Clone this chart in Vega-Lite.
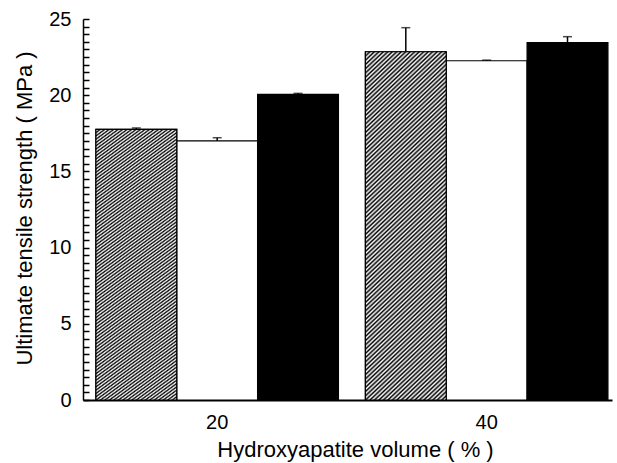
{
  "$schema": "https://vega.github.io/schema/vega-lite/v6.json",
  "width": 529,
  "height": 381,
  "autosize": {"type": "none"},
  "padding": {"left": 83, "top": 19, "right": 5, "bottom": 63},
  "background": "white",
  "config": {
    "view": {"stroke": null},
    "font": "Liberation Sans",
    "axis": {"labelFont": "Liberation Sans", "titleFont": "Liberation Sans", "labelColor": "#000", "titleColor": "#000", "domainColor": "#000", "tickColor": "#000", "titleFontWeight": "normal"},
    "axisY": {
      "labelExpr": "datum.value % 5 === 0 ? datum.value : ''",
      "tickSize": -6, "tickWidth": 1.5, "tickOpacity": 1, "labelFontSize": 20, "labelPadding": 18,
      "domainWidth": 1.5, "grid": false, "labelOverlap": false,
      "titleFontSize": 22, "titleAngle": -90, "titleX": -52, "titleY": 189, "titleAlign": "center", "titleBaseline": "alphabetic"
    }
  },
  "data": {
    "values": [
      {"group": "20", "series": "A", "value": 17.76, "upper": 17.85},
      {"group": "20", "series": "B", "value": 17.0, "upper": 17.21},
      {"group": "20", "series": "C", "value": 20.06, "upper": 20.12},
      {"group": "40", "series": "A", "value": 22.85, "upper": 24.43},
      {"group": "40", "series": "B", "value": 22.26, "upper": 22.3},
      {"group": "40", "series": "C", "value": 23.45, "upper": 23.84}
    ]
  },
  "encoding": {
    "x": {
      "field": "group", "type": "nominal",
      "scale": {"paddingInner": 0.1, "paddingOuter": 0.0315, "align": 0.76},
      "axis": {
        "title": "Hydroxyapatite volume ( % )",
        "labelAngle": 0, "labelFontSize": 20, "labelPadding": 12,
        "ticks": false, "domainWidth": 2, "grid": false,
        "titleFontSize": 22, "titleX": 272, "titleY": 56, "titleBaseline": "alphabetic", "titleAnchor": "middle"
      }
    },
    "xOffset": {"field": "series", "type": "nominal", "scale": {"paddingInner": 0, "paddingOuter": 0}}
  },
  "layer": [
    {
      "mark": {"type": "bar", "stroke": "#000", "strokeWidth": 1.2},
      "encoding": {
        "y": {
          "field": "value", "type": "quantitative",
          "scale": {"domain": [0, 25], "nice": false, "zero": true},
          "axis": {"title": "Ultimate tensile strength ( MPa )", "values": [0,0.5,1,1.5,2,2.5,3,3.5,4,4.5,5,5.5,6,6.5,7,7.5,8,8.5,9,9.5,10,10.5,11,11.5,12,12.5,13,13.5,14,14.5,15,15.5,16,16.5,17,17.5,18,18.5,19,19.5,20,20.5,21,21.5,22,22.5,23,23.5,24,24.5,25]}
        },
        "color": {
          "field": "series", "type": "nominal",
          "scale": {"domain": ["A", "B", "C"], "range": ["#7c7c7c", "#ffffff", "#000000"]},
          "legend": null
        }
      }
    },
    {
      "transform": [{"filter": "datum.series === 'A'"}],
      "mark": {
        "type": "bar", "stroke": "#000", "strokeWidth": 1.2,
        "fill": {
          "gradient": "linear", "x1": 0, "y1": 0, "x2": 0.256, "y2": 1.1637,
          "stops": [
            {"offset":0,"color":"#000"},{"offset":0.005,"color":"#fff"},{"offset":0.01,"color":"#000"},{"offset":0.015,"color":"#fff"},{"offset":0.02,"color":"#000"},{"offset":0.025,"color":"#fff"},{"offset":0.03,"color":"#000"},{"offset":0.035,"color":"#fff"},{"offset":0.04,"color":"#000"},{"offset":0.045,"color":"#fff"},
            {"offset":0.05,"color":"#000"},{"offset":0.055,"color":"#fff"},{"offset":0.06,"color":"#000"},{"offset":0.065,"color":"#fff"},{"offset":0.07,"color":"#000"},{"offset":0.075,"color":"#fff"},{"offset":0.08,"color":"#000"},{"offset":0.085,"color":"#fff"},{"offset":0.09,"color":"#000"},{"offset":0.095,"color":"#fff"},
            {"offset":0.1,"color":"#000"},{"offset":0.105,"color":"#fff"},{"offset":0.11,"color":"#000"},{"offset":0.115,"color":"#fff"},{"offset":0.12,"color":"#000"},{"offset":0.125,"color":"#fff"},{"offset":0.13,"color":"#000"},{"offset":0.135,"color":"#fff"},{"offset":0.14,"color":"#000"},{"offset":0.145,"color":"#fff"},
            {"offset":0.15,"color":"#000"},{"offset":0.155,"color":"#fff"},{"offset":0.16,"color":"#000"},{"offset":0.165,"color":"#fff"},{"offset":0.17,"color":"#000"},{"offset":0.175,"color":"#fff"},{"offset":0.18,"color":"#000"},{"offset":0.185,"color":"#fff"},{"offset":0.19,"color":"#000"},{"offset":0.195,"color":"#fff"},
            {"offset":0.2,"color":"#000"},{"offset":0.205,"color":"#fff"},{"offset":0.21,"color":"#000"},{"offset":0.215,"color":"#fff"},{"offset":0.22,"color":"#000"},{"offset":0.225,"color":"#fff"},{"offset":0.23,"color":"#000"},{"offset":0.235,"color":"#fff"},{"offset":0.24,"color":"#000"},{"offset":0.245,"color":"#fff"},
            {"offset":0.25,"color":"#000"},{"offset":0.255,"color":"#fff"},{"offset":0.26,"color":"#000"},{"offset":0.265,"color":"#fff"},{"offset":0.27,"color":"#000"},{"offset":0.275,"color":"#fff"},{"offset":0.28,"color":"#000"},{"offset":0.285,"color":"#fff"},{"offset":0.29,"color":"#000"},{"offset":0.295,"color":"#fff"},
            {"offset":0.3,"color":"#000"},{"offset":0.305,"color":"#fff"},{"offset":0.31,"color":"#000"},{"offset":0.315,"color":"#fff"},{"offset":0.32,"color":"#000"},{"offset":0.325,"color":"#fff"},{"offset":0.33,"color":"#000"},{"offset":0.335,"color":"#fff"},{"offset":0.34,"color":"#000"},{"offset":0.345,"color":"#fff"},
            {"offset":0.35,"color":"#000"},{"offset":0.355,"color":"#fff"},{"offset":0.36,"color":"#000"},{"offset":0.365,"color":"#fff"},{"offset":0.37,"color":"#000"},{"offset":0.375,"color":"#fff"},{"offset":0.38,"color":"#000"},{"offset":0.385,"color":"#fff"},{"offset":0.39,"color":"#000"},{"offset":0.395,"color":"#fff"},
            {"offset":0.4,"color":"#000"},{"offset":0.405,"color":"#fff"},{"offset":0.41,"color":"#000"},{"offset":0.415,"color":"#fff"},{"offset":0.42,"color":"#000"},{"offset":0.425,"color":"#fff"},{"offset":0.43,"color":"#000"},{"offset":0.435,"color":"#fff"},{"offset":0.44,"color":"#000"},{"offset":0.445,"color":"#fff"},
            {"offset":0.45,"color":"#000"},{"offset":0.455,"color":"#fff"},{"offset":0.46,"color":"#000"},{"offset":0.465,"color":"#fff"},{"offset":0.47,"color":"#000"},{"offset":0.475,"color":"#fff"},{"offset":0.48,"color":"#000"},{"offset":0.485,"color":"#fff"},{"offset":0.49,"color":"#000"},{"offset":0.495,"color":"#fff"},
            {"offset":0.5,"color":"#000"},{"offset":0.505,"color":"#fff"},{"offset":0.51,"color":"#000"},{"offset":0.515,"color":"#fff"},{"offset":0.52,"color":"#000"},{"offset":0.525,"color":"#fff"},{"offset":0.53,"color":"#000"},{"offset":0.535,"color":"#fff"},{"offset":0.54,"color":"#000"},{"offset":0.545,"color":"#fff"},
            {"offset":0.55,"color":"#000"},{"offset":0.555,"color":"#fff"},{"offset":0.56,"color":"#000"},{"offset":0.565,"color":"#fff"},{"offset":0.57,"color":"#000"},{"offset":0.575,"color":"#fff"},{"offset":0.58,"color":"#000"},{"offset":0.585,"color":"#fff"},{"offset":0.59,"color":"#000"},{"offset":0.595,"color":"#fff"},
            {"offset":0.6,"color":"#000"},{"offset":0.605,"color":"#fff"},{"offset":0.61,"color":"#000"},{"offset":0.615,"color":"#fff"},{"offset":0.62,"color":"#000"},{"offset":0.625,"color":"#fff"},{"offset":0.63,"color":"#000"},{"offset":0.635,"color":"#fff"},{"offset":0.64,"color":"#000"},{"offset":0.645,"color":"#fff"},
            {"offset":0.65,"color":"#000"},{"offset":0.655,"color":"#fff"},{"offset":0.66,"color":"#000"},{"offset":0.665,"color":"#fff"},{"offset":0.67,"color":"#000"},{"offset":0.675,"color":"#fff"},{"offset":0.68,"color":"#000"},{"offset":0.685,"color":"#fff"},{"offset":0.69,"color":"#000"},{"offset":0.695,"color":"#fff"},
            {"offset":0.7,"color":"#000"},{"offset":0.705,"color":"#fff"},{"offset":0.71,"color":"#000"},{"offset":0.715,"color":"#fff"},{"offset":0.72,"color":"#000"},{"offset":0.725,"color":"#fff"},{"offset":0.73,"color":"#000"},{"offset":0.735,"color":"#fff"},{"offset":0.74,"color":"#000"},{"offset":0.745,"color":"#fff"},
            {"offset":0.75,"color":"#000"},{"offset":0.755,"color":"#fff"},{"offset":0.76,"color":"#000"},{"offset":0.765,"color":"#fff"},{"offset":0.77,"color":"#000"},{"offset":0.775,"color":"#fff"},{"offset":0.78,"color":"#000"},{"offset":0.785,"color":"#fff"},{"offset":0.79,"color":"#000"},{"offset":0.795,"color":"#fff"},
            {"offset":0.8,"color":"#000"},{"offset":0.805,"color":"#fff"},{"offset":0.81,"color":"#000"},{"offset":0.815,"color":"#fff"},{"offset":0.82,"color":"#000"},{"offset":0.825,"color":"#fff"},{"offset":0.83,"color":"#000"},{"offset":0.835,"color":"#fff"},{"offset":0.84,"color":"#000"},{"offset":0.845,"color":"#fff"},
            {"offset":0.85,"color":"#000"},{"offset":0.855,"color":"#fff"},{"offset":0.86,"color":"#000"},{"offset":0.865,"color":"#fff"},{"offset":0.87,"color":"#000"},{"offset":0.875,"color":"#fff"},{"offset":0.88,"color":"#000"},{"offset":0.885,"color":"#fff"},{"offset":0.89,"color":"#000"},{"offset":0.895,"color":"#fff"},
            {"offset":0.9,"color":"#000"},{"offset":0.905,"color":"#fff"},{"offset":0.91,"color":"#000"},{"offset":0.915,"color":"#fff"},{"offset":0.92,"color":"#000"},{"offset":0.925,"color":"#fff"},{"offset":0.93,"color":"#000"},{"offset":0.935,"color":"#fff"},{"offset":0.94,"color":"#000"},{"offset":0.945,"color":"#fff"},
            {"offset":0.95,"color":"#000"},{"offset":0.955,"color":"#fff"},{"offset":0.96,"color":"#000"},{"offset":0.965,"color":"#fff"},{"offset":0.97,"color":"#000"},{"offset":0.975,"color":"#fff"},{"offset":0.98,"color":"#000"},{"offset":0.985,"color":"#fff"},{"offset":0.99,"color":"#000"},{"offset":0.995,"color":"#fff"},
            {"offset":1,"color":"#000"}
          ]
        }
      },
      "encoding": {
        "y": {"field": "value", "type": "quantitative", "axis": {"title": "Ultimate tensile strength ( MPa )", "values": [0,0.5,1,1.5,2,2.5,3,3.5,4,4.5,5,5.5,6,6.5,7,7.5,8,8.5,9,9.5,10,10.5,11,11.5,12,12.5,13,13.5,14,14.5,15,15.5,16,16.5,17,17.5,18,18.5,19,19.5,20,20.5,21,21.5,22,22.5,23,23.5,24,24.5,25]}}
      }
    },
    {
      "mark": {"type": "rule", "color": "#000", "strokeWidth": 1.5},
      "encoding": {
        "y": {"field": "value", "type": "quantitative", "axis": {"title": "Ultimate tensile strength ( MPa )", "values": [0,0.5,1,1.5,2,2.5,3,3.5,4,4.5,5,5.5,6,6.5,7,7.5,8,8.5,9,9.5,10,10.5,11,11.5,12,12.5,13,13.5,14,14.5,15,15.5,16,16.5,17,17.5,18,18.5,19,19.5,20,20.5,21,21.5,22,22.5,23,23.5,24,24.5,25]}},
        "y2": {"field": "upper"}
      }
    },
    {
      "mark": {"type": "tick", "color": "#000", "thickness": 1.5, "size": 9, "orient": "horizontal"},
      "encoding": {
        "y": {"field": "upper", "type": "quantitative", "axis": {"title": "Ultimate tensile strength ( MPa )", "values": [0,0.5,1,1.5,2,2.5,3,3.5,4,4.5,5,5.5,6,6.5,7,7.5,8,8.5,9,9.5,10,10.5,11,11.5,12,12.5,13,13.5,14,14.5,15,15.5,16,16.5,17,17.5,18,18.5,19,19.5,20,20.5,21,21.5,22,22.5,23,23.5,24,24.5,25]}}
      }
    }
  ]
}
